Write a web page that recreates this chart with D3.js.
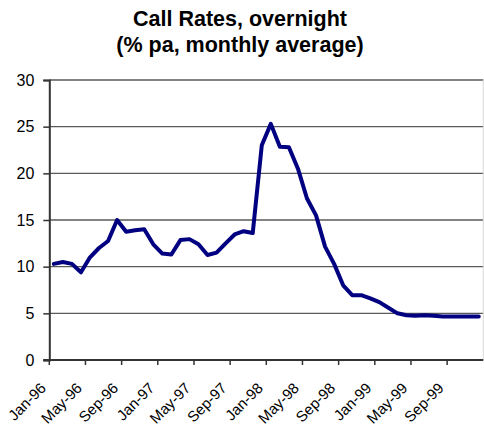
<!DOCTYPE html>
<html>
<head>
<meta charset="utf-8">
<script src="https://cdn.jsdelivr.net/npm/d3@7"></script>
<style>
  html, body { margin: 0; padding: 0; background: #fff; }
  svg { display: block; font-family: "Liberation Sans", Arial, sans-serif; }
</style>
</head>
<body>
<svg id="chart" width="484" height="427"></svg>
<script>
const titleLines = ["Call Rates, overnight", "(% pa, monthly average)"];
const monthNames = ["Jan","Feb","Mar","Apr","May","Jun","Jul","Aug","Sep","Oct","Nov","Dec"];
const years = ["96","97","98","99"];
const categories = years.flatMap(y => monthNames.map(m => m + "-" + y));
const callRate = [
  10.3, 10.5, 10.3, 9.4, 11.0, 12.0, 12.75, 15.0, 13.75, 13.9, 14.0, 12.4,
  11.4, 11.3, 12.85, 12.95, 12.4, 11.25, 11.5, 12.5, 13.45, 13.8, 13.6, 23.0,
  25.3, 22.85, 22.8, 20.5, 17.3, 15.5, 12.15, 10.3, 8.0, 6.95, 6.95, 6.6,
  6.2, 5.6, 5.0, 4.8, 4.75, 4.8, 4.75, 4.65, 4.65, 4.65, 4.65, 4.65
];
const yTicks = [0, 5, 10, 15, 20, 25, 30];
const labelEvery = 4;

const svg = d3.select("#chart");
const plotLeft = 49.3, plotRight = 483.3, plotTop = 80, plotBottom = 360;

const x = d3.scaleBand().domain(categories).range([plotLeft, plotRight]).padding(0);
const y = d3.scaleLinear().domain([0, 30]).range([plotBottom, plotTop]);

// title
svg.append("g").selectAll("text").data(titleLines).join("text")
  .attr("x", 240).attr("y", (d, i) => 26 + i * 25.5)
  .attr("text-anchor", "middle")
  .attr("font-size", 21.5).attr("font-weight", "bold").attr("fill", "#000")
  .text(d => d);

// gridlines
svg.append("g").selectAll("line").data(yTicks.filter(d => d > 0)).join("line")
  .attr("x1", plotLeft).attr("x2", plotRight)
  .attr("y1", d => y(d)).attr("y2", d => y(d))
  .attr("stroke", "#5a5a5a").attr("stroke-width", 1.3);

// right border
svg.append("line").attr("x1", plotRight).attr("x2", plotRight).attr("y1", plotTop).attr("y2", plotBottom)
  .attr("stroke", "#d8d8d8").attr("stroke-width", 1);

// y axis
const yAxis = d3.axisLeft(y).tickValues(yTicks).tickSize(6).tickPadding(9);
const gy = svg.append("g").attr("transform", `translate(${plotLeft},0)`).call(yAxis);
gy.select(".domain").attr("stroke", "#333").attr("stroke-width", 2);
gy.selectAll(".tick line").attr("stroke", "#333").attr("stroke-width", 1.5);
gy.selectAll(".tick text").attr("font-size", 16).attr("fill", "#000")
  .attr("font-family", "Liberation Sans, Arial, sans-serif");

// x axis (category boundaries as ticks)
const tickCats = categories.filter((d, i) => i % labelEvery === 0);
svg.append("line").attr("x1", plotLeft - 6).attr("x2", plotRight).attr("y1", plotBottom).attr("y2", plotBottom)
  .attr("stroke", "#333").attr("stroke-width", 2);
svg.append("g").selectAll("line").data(tickCats).join("line")
  .attr("x1", d => x(d)).attr("x2", d => x(d))
  .attr("y1", plotBottom).attr("y2", plotBottom + 5)
  .attr("stroke", "#333").attr("stroke-width", 1.5);
svg.append("g").selectAll("text").data(tickCats).join("text")
  .attr("transform", d => `translate(${x(d) + x.bandwidth() / 2 - 7},${plotBottom + 29}) rotate(-45)`)
  .attr("text-anchor", "end")
  .attr("font-size", 15).attr("fill", "#000")
  .text(d => d);

// line
const line = d3.line()
  .x((d, i) => x(categories[i]) + x.bandwidth() / 2)
  .y(d => y(d));
svg.append("path").datum(callRate)
  .attr("d", line).attr("fill", "none")
  .attr("stroke", "#000080").attr("stroke-width", 4)
  .attr("stroke-linejoin", "round").attr("stroke-linecap", "round");
</script>
</body>
</html>
